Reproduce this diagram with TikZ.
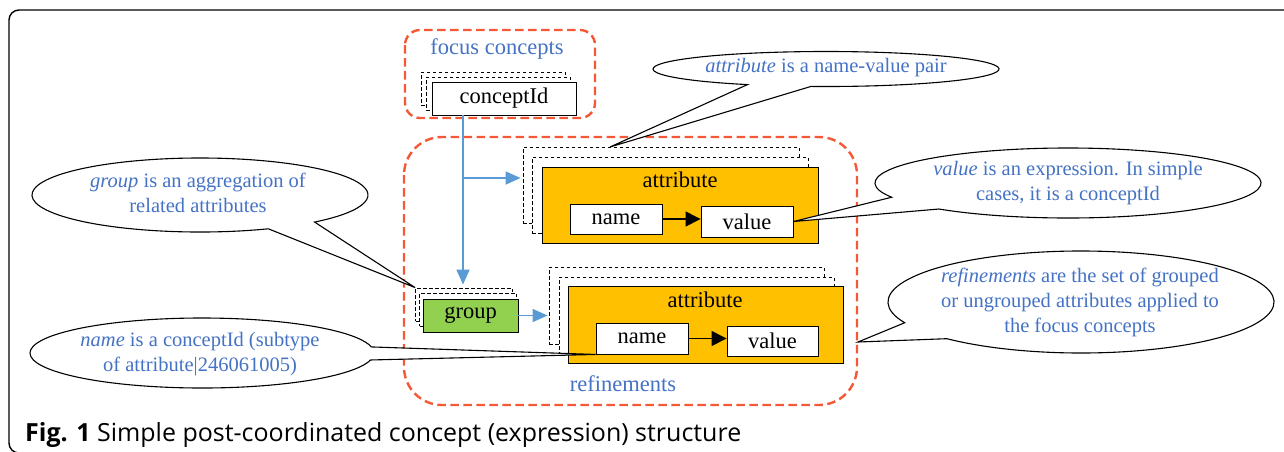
\documentclass[tikz,border=0pt]{standalone}
\usepackage{fontspec}
\usepackage{graphicx}
\setmainfont{Liberation Serif}
\newfontfamily\capfont{Open Sans}
\usetikzlibrary{arrows.meta}
\definecolor{dorange}{RGB}{244,88,52}
\definecolor{tblue}{RGB}{68,114,196}
\definecolor{ablue}{RGB}{91,155,213}
\definecolor{gold}{RGB}{255,192,0}
\definecolor{lgreen}{RGB}{146,208,80}
\newcommand{\boxfnt}{\fontsize{22.5}{27}\selectfont}
\newcommand{\callfnt}{\fontsize{20.5}{25}\selectfont}
\begin{document}
\begin{tikzpicture}[x=1pt,y=-1pt,
  grpframe/.style={draw=dorange, line width=2.4pt, dash pattern=on 8.5pt off 4.5pt, rounded corners=#1},
  fbox/.style={draw=black, line width=0.9pt, inner sep=0pt, font=\boxfnt},
  backbox/.style={draw=black, fill=white, line width=0.9pt, dash pattern=on 3.5pt off 2.5pt, inner sep=0pt},
  lbl/.style={inner sep=0pt, font=\boxfnt},
  bluelbl/.style={inner sep=0pt, font=\boxfnt, text=tblue},
  barrow/.style={draw=ablue, line width=1.8pt, -{Triangle[length=15pt,width=13pt]}},
  karrow/.style={draw=black, line width=1.3pt, -{Triangle[length=15pt,width=15pt]}},
  callout/.style={draw=black, fill=white, line width=1.1pt},
  calltext/.style={inner sep=0pt, align=center, font=\callfnt, text=tblue}
]
\useasboundingbox (0,0) rectangle (1284,451);

% outer frame
\draw[line width=1.4pt, rounded corners=10] (9,10) rectangle (1320,453);

% group frames
\draw[grpframe=15] (405,30) rectangle (595,118);
\draw[grpframe=38] (404,137) rectangle (857,405);
\node[bluelbl] (focuslbl) at (497,49) {focus concepts};
\node[bluelbl] (reflbl) at (623,384) {refinements};

% conceptId stack
\node[backbox, minimum width=144, minimum height=33] (cidb1) at (493,88.5) {};
\node[backbox, minimum width=144, minimum height=33] (cidb2) at (498,93.5) {};
\node[fbox, fill=white, minimum width=144, minimum height=33] (cid) at (504,98.5) {conceptId};

% attribute stack 1
\node[backbox, minimum width=276, minimum height=76] (a1b1) at (661,185) {};
\node[backbox, minimum width=276, minimum height=76] (a1b2) at (670,195) {};
\node[fbox, fill=gold, minimum width=276, minimum height=76] (a1) at (680,205) {};
\node[lbl] (a1lbl) at (680,180) {attribute};
\node[fbox, fill=white, minimum width=92, minimum height=30] (n1) at (616,219) {name};
\node[fbox, fill=white, minimum width=92, minimum height=31] (v1) at (747,221.5) {value};

% attribute stack 2
\node[backbox, minimum width=275, minimum height=77] (a2b1) at (686.5,305.5) {};
\node[backbox, minimum width=275, minimum height=77] (a2b2) at (696.5,315.5) {};
\node[fbox, fill=gold, minimum width=275, minimum height=77] (a2) at (705.5,324.5) {};
\node[lbl] (a2lbl) at (705,300) {attribute};
\node[fbox, fill=white, minimum width=92, minimum height=31] (n2) at (642,338.5) {name};
\node[fbox, fill=white, minimum width=91, minimum height=30] (v2) at (772.5,341) {value};

% group stack
\node[backbox, minimum width=97, minimum height=33] (gb1) at (464,304.5) {};
\node[backbox, minimum width=97, minimum height=33] (gb2) at (468,309.5) {};
\node[fbox, fill=lgreen, minimum width=95, minimum height=33] (grp) at (470.5,315.5) {group};

% connectors
\coordinate (vx) at (463,0);
\coordinate (br) at (463,178);
\draw[barrow, shorten >=3pt] (cid.south -| vx) -- (gb1.north -| vx);
\draw[barrow, shorten >=2pt] (br) -- (br -| a1b1.west);
\draw[barrow, shorten >=1pt] (grp.east) -- (grp.east -| a2b1.west);
\draw[karrow] (n1.east) -- (n1.east -| v1.west);
\draw[karrow] (n2.east) -- (n2.east -| v2.west);

% callouts
\coordinate (tipA) at (610,147);
\draw[callout] (826,69) ++(117:173 and 17.5) arc[start angle=117, end angle=455, x radius=173, y radius=17.5] -- (tipA) -- cycle;
\node[calltext] (cA) at (826,68) {\textit{attribute} is a name-value pair};

\draw[callout] (1068,183) ++(156:193 and 35) arc[start angle=156, end angle=492, x radius=193, y radius=35] -- (v1.east) -- cycle;
\node[calltext] (cV) at (1068,183.5) {\textit{value} is an expression. In simple\\cases, it is a conceptId};

\draw[callout] (200,195) ++(66:168 and 37) arc[start angle=66, end angle=407, x radius=168, y radius=37] -- (gb1.north west) -- cycle;
\node[calltext] (cG) at (198,192.5) {\textit{group} is an aggregation of\\related attributes};

\draw[callout] (202,353) ++(11.5:172 and 35) arc[start angle=11.5, end angle=350, x radius=172, y radius=35] -- (n2.south west) -- cycle;
\node[calltext] (cN) at (200,354.5) {\textit{name} is a conceptId (subtype\\of attribute|246061005)};

\coordinate (tipR) at (858,342);
\draw[callout] (1081,302) ++(156:193 and 51) arc[start angle=156, end angle=494, x radius=193, y radius=51] -- (tipR) -- cycle;
\node[calltext] (cR) at (1080,302) {\textit{refinements} are the set of grouped\\or ungrouped attributes applied to\\the focus concepts};

% caption
\node[anchor=west, inner sep=0pt] (cap) at (25,435) {\resizebox{716pt}{!}{\capfont\fontsize{22}{26}\selectfont\textbf{Fig. 1} Simple post-coordinated concept (expression) structure}};
\end{tikzpicture}
\end{document}
